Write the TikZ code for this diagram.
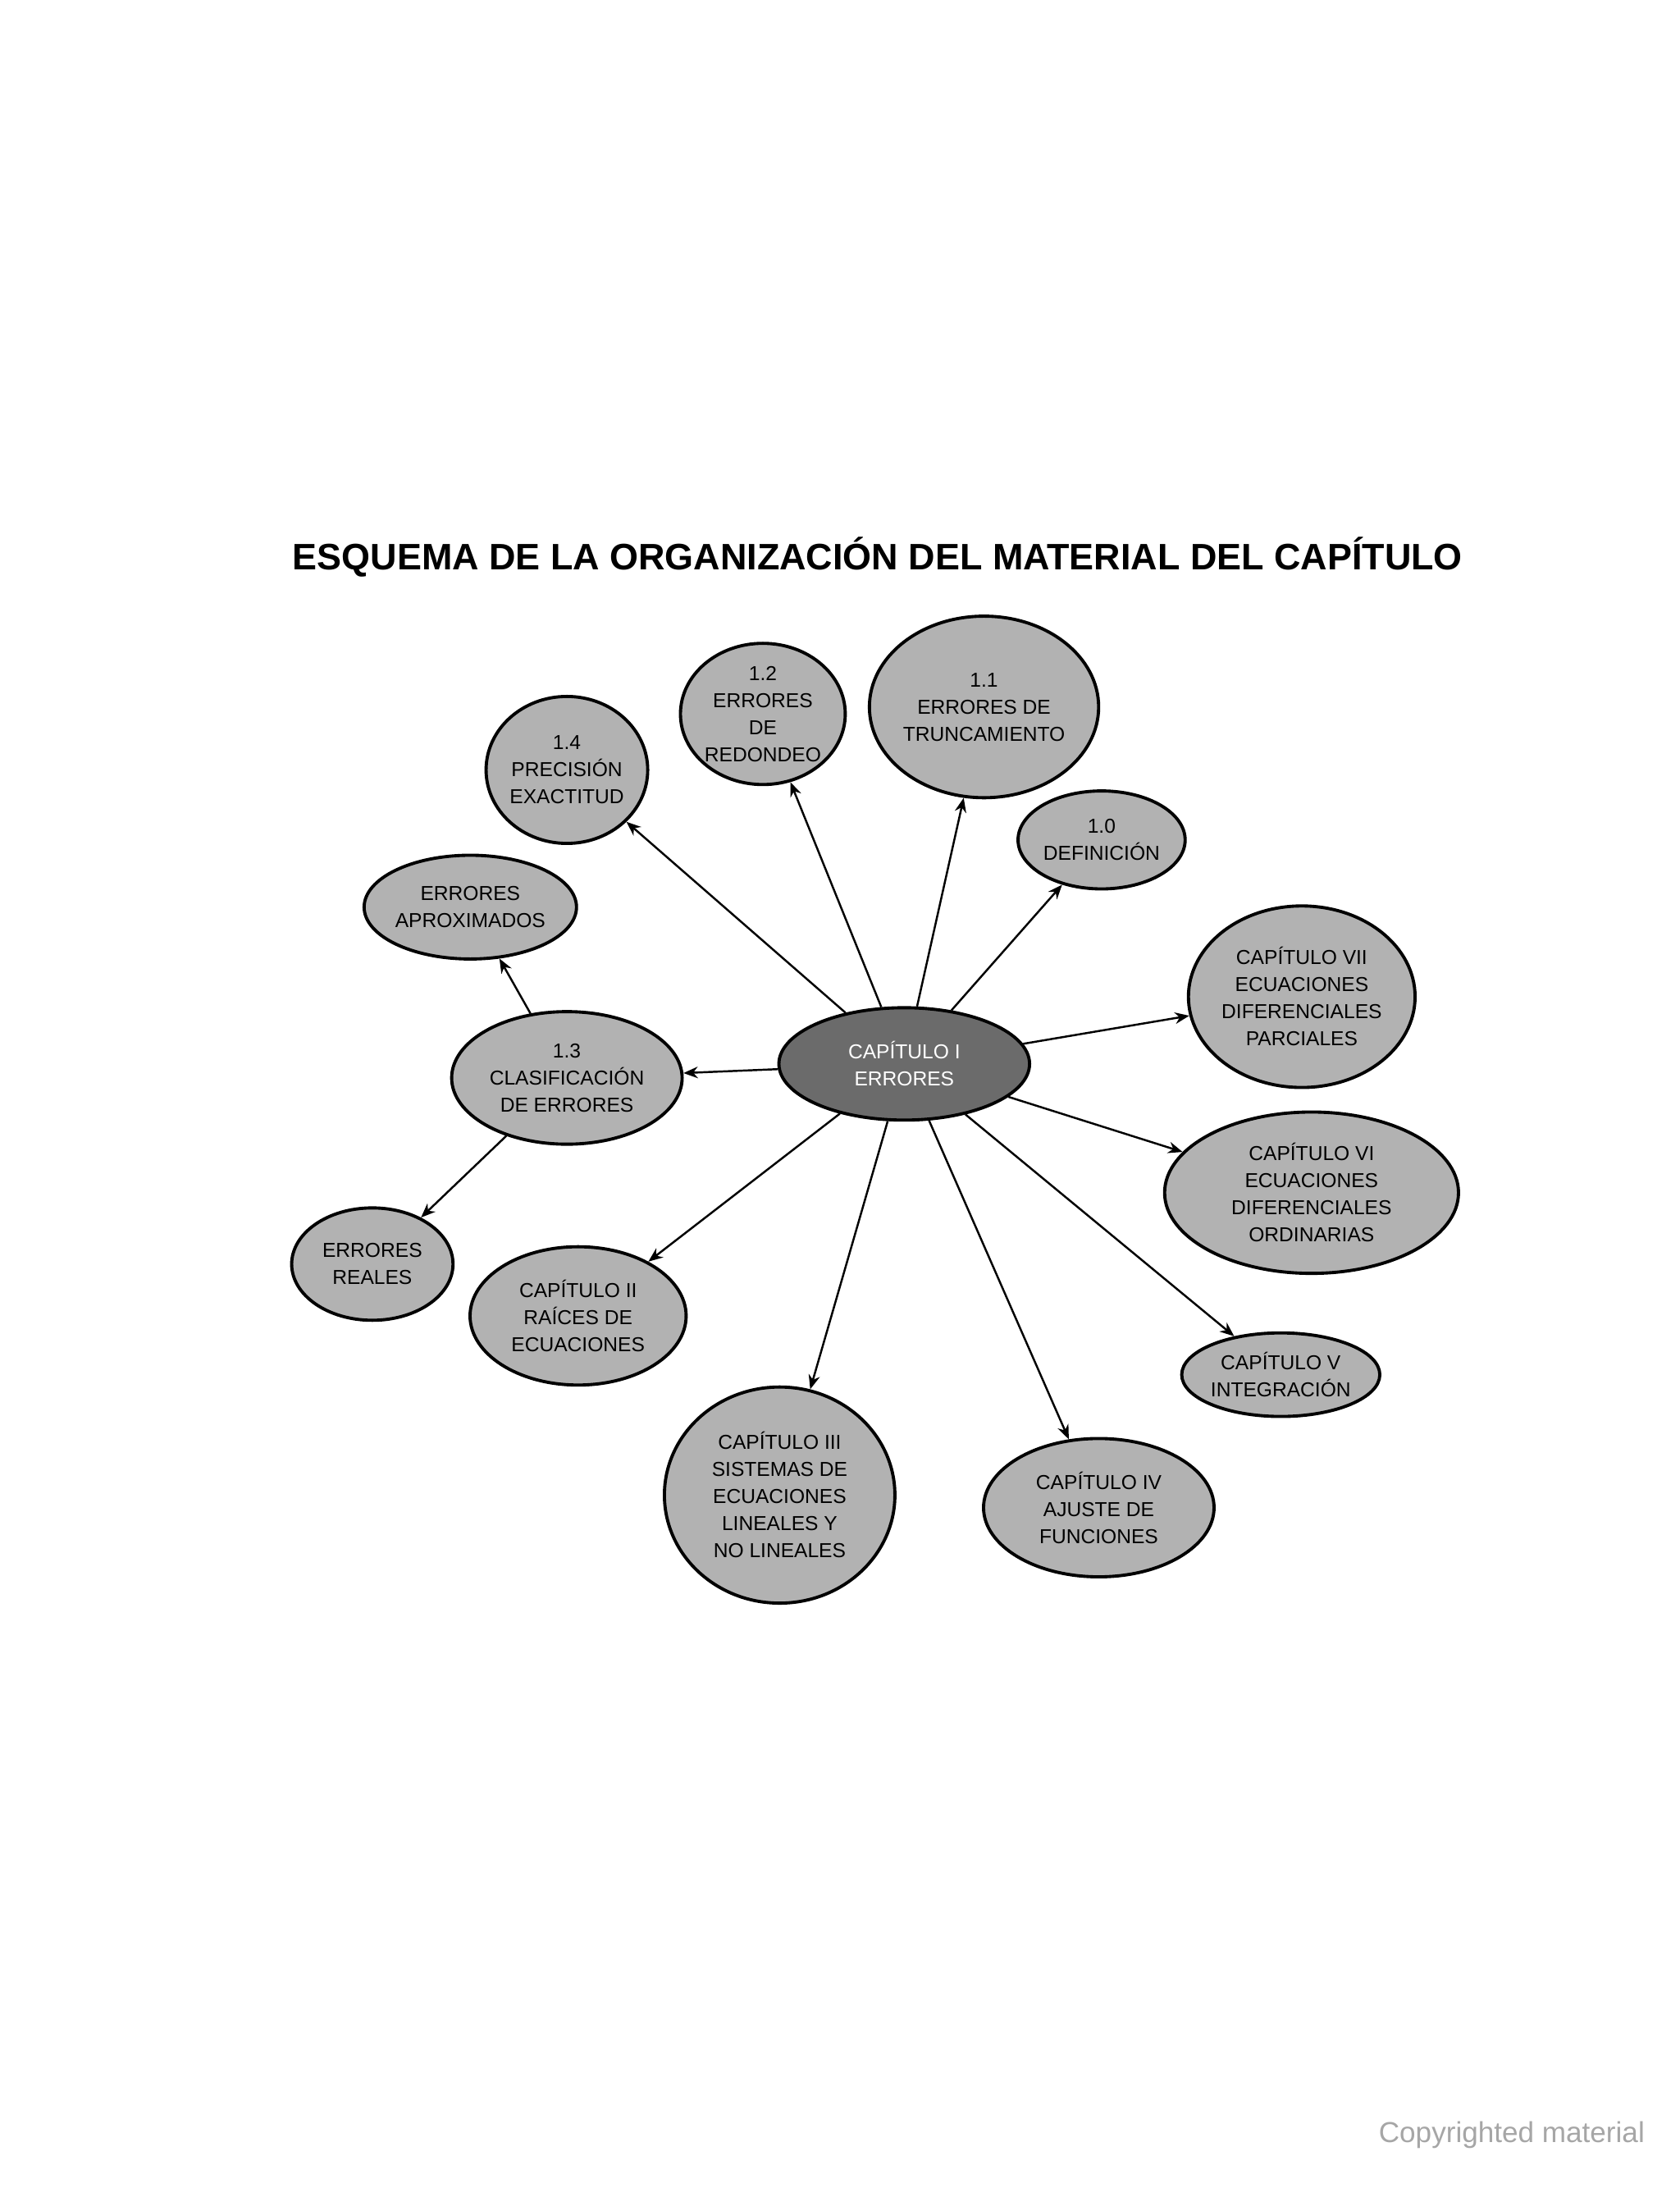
\documentclass[tikz,border=0pt]{standalone}
\usepackage{fontspec}
\setmainfont{Liberation Sans}
\usetikzlibrary{shapes.geometric,arrows.meta}
\begin{document}
\begin{tikzpicture}[x=0.017067cm,y=-0.017067cm,
  bub/.style={ellipse,draw=black,line width=1.1pt,fill=black!30,inner sep=0pt,align=center,font=\fontsize{7}{9.4}\selectfont},
  arr/.style={-{Stealth[length=5pt,width=4pt]},line width=0.7pt}]
\useasboundingbox (0,0) rectangle (1200,1563);
\fill[white] (0,0) rectangle (1200,1563);
\node (title) at (627,398) {\resizebox{406pt}{!}{\bfseries ESQUEMA DE LA ORGANIZACIÓN DEL MATERIAL DEL CAPÍTULO}};
\node[bub,fill=black!58,text=white,minimum width=180\pgflinewidth,minimum width=87pt,minimum height=39pt] (c) at (646,760) {CAPÍTULO I\\ERRORES};
\node[bub,minimum width=53pt,minimum height=49pt] (n12) at (545,510) {1.2\\ERRORES\\DE\\REDONDEO};
\node[bub,minimum width=73pt,minimum height=63pt] (n11) at (703,505) {1.1\\ERRORES DE\\TRUNCAMIENTO};
\node[bub,minimum width=56pt,minimum height=51pt] (n14) at (405,550) {1.4\\PRECISIÓN\\EXACTITUD};
\node[bub,minimum width=58pt,minimum height=34pt] (n10) at (787,600) {1.0\\DEFINICIÓN};
\node[bub,minimum width=68pt,minimum height=36pt] (ea) at (336,648) {ERRORES\\APROXIMADOS};
\node[bub,minimum width=77pt,minimum height=63pt] (c7) at (930,712) {CAPÍTULO VII\\ECUACIONES\\DIFERENCIALES\\PARCIALES};
\node[bub,minimum width=80pt,minimum height=46pt] (n13) at (405,770) {1.3\\CLASIFICACIÓN\\DE ERRORES};
\node[bub,minimum width=102pt,minimum height=56pt] (c6) at (937,852) {CAPÍTULO VI\\ECUACIONES\\DIFERENCIALES\\ORDINARIAS};
\node[bub,minimum width=56pt,minimum height=39pt] (er) at (266,903) {ERRORES\\REALES};
\node[bub,minimum width=75pt,minimum height=48pt] (c2) at (413,940) {CAPÍTULO II\\RAÍCES DE\\ECUACIONES};
\node[bub,minimum width=63pt,minimum height=29pt] (c5) at (915,982) {CAPÍTULO V\\INTEGRACIÓN};
\node[bub,minimum width=80pt,minimum height=75pt] (c3) at (557,1068) {CAPÍTULO III\\SISTEMAS DE\\ECUACIONES\\LINEALES Y\\NO LINEALES};
\node[bub,minimum width=80pt,minimum height=48pt] (c4) at (785,1077) {CAPÍTULO IV\\AJUSTE DE\\FUNCIONES};
\foreach \t in {n12,n11,n14,n10,c7,n13,c6,c2,c5,c3,c4} \draw[arr] (c) -- (\t);
\draw[arr] (n13) -- (ea);
\draw[arr] (n13) -- (er);
\node[text=black!35,font=\fontsize{10}{12}\selectfont] (copy) at (1080,1525) {Copyrighted material};
\end{tikzpicture}
\end{document}
